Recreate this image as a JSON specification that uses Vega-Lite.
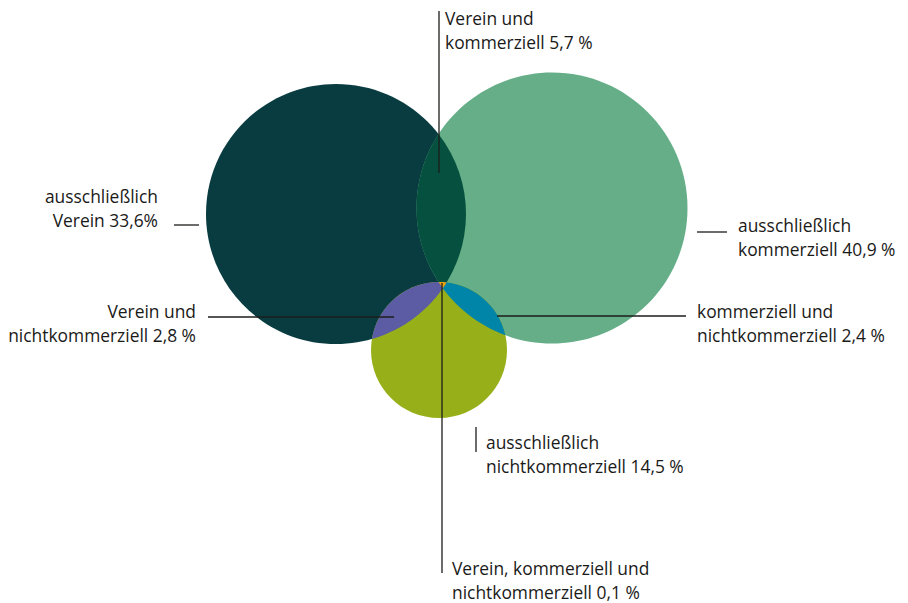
{
  "$schema": "https://vega.github.io/schema/vega-lite/v6.json",
  "width": 908,
  "height": 603,
  "padding": 0,
  "autosize": "none",
  "background": "white",
  "config": {"view": {"stroke": null}},
  "datasets": {
    "regions": [
      {"region": "Verein", "share": 33.6, "x": 336, "y": 214},
      {"region": "kommerziell", "share": 40.9, "x": 552, "y": 208},
      {"region": "nichtkommerziell", "share": 14.5, "x": 439, "y": 350},
      {"region": "Verein und kommerziell", "share": 5.7, "x": 438.48, "y": 134.01},
      {"region": "Verein und nichtkommerziell", "share": 2.8, "x": 446.54, "y": 282.42},
      {"region": "kommerziell und nichtkommerziell", "share": 2.4, "x": 438.5, "y": 282.02},
      {"region": "Verein, kommerziell und nichtkommerziell", "share": 0.1, "x": 438.5, "y": 282.02}
    ],
    "labels": [
      {"region": "Verein und kommerziell", "text": "Verein und\nkommerziell 5,7 %", "x": 445, "y": 25},
      {"region": "Verein", "text": "ausschließlich\nVerein 33,6%", "x": 158, "y": 203},
      {"region": "Verein und nichtkommerziell", "text": "Verein und\nnichtkommerziell 2,8 %", "x": 196, "y": 318},
      {"region": "kommerziell", "text": "ausschließlich\nkommerziell 40,9 %", "x": 738, "y": 232},
      {"region": "kommerziell und nichtkommerziell", "text": "kommerziell und\nnichtkommerziell 2,4 %", "x": 697, "y": 318},
      {"region": "nichtkommerziell", "text": "ausschließlich\nnichtkommerziell 14,5 %", "x": 486, "y": 449},
      {"region": "Verein, kommerziell und nichtkommerziell", "text": "Verein, kommerziell und\nnichtkommerziell 0,1 %", "x": 452, "y": 575}
    ],
    "leaders": [
      {"region": "Verein und kommerziell", "x": 439, "y": 11, "x2": 439, "y2": 173},
      {"region": "Verein", "x": 174, "y": 225, "x2": 199, "y2": 225},
      {"region": "Verein und nichtkommerziell", "x": 208, "y": 317, "x2": 394, "y2": 317},
      {"region": "kommerziell", "x": 697, "y": 232, "x2": 727, "y2": 232},
      {"region": "kommerziell und nichtkommerziell", "x": 497, "y": 316, "x2": 686, "y2": 316},
      {"region": "nichtkommerziell", "x": 476, "y": 427, "x2": 476, "y2": 452},
      {"region": "Verein, kommerziell und nichtkommerziell", "x": 442, "y": 283, "x2": 442, "y2": 573}
    ]
  },
  "encoding": {
    "x": {"field": "x", "type": "quantitative", "scale": {"domain": [0, 908], "nice": false, "zero": false}, "axis": null},
    "y": {"field": "y", "type": "quantitative", "scale": {"domain": [0, 603], "reverse": true, "nice": false, "zero": false}, "axis": null}
  },
  "layer": [
    {
      "data": {"name": "regions"},
      "mark": {"type": "point", "filled": true, "size": 4, "opacity": 1, "strokeWidth": 0},
      "encoding": {
        "color": {
          "field": "region",
          "type": "nominal",
          "scale": {
            "domain": ["Verein", "kommerziell", "nichtkommerziell", "Verein und kommerziell", "Verein und nichtkommerziell", "kommerziell und nichtkommerziell", "Verein, kommerziell und nichtkommerziell"],
            "range": ["#083c40", "#65ae88", "#97b01a", "#06503f", "#5b5ca3", "#0084a8", "#f2a20c"]
          },
          "legend": null
        },
        "shape": {
          "field": "region",
          "type": "nominal",
          "scale": {
            "domain": ["Verein", "kommerziell", "nichtkommerziell", "Verein und kommerziell", "Verein und nichtkommerziell", "kommerziell und nichtkommerziell", "Verein, kommerziell und nichtkommerziell"],
            "range": [
              "M-130,0A130,130 0 1 1 130,0A130,130 0 1 1 -130,0Z",
              "M-135.5,0A135.5,135.5 0 1 1 135.5,0A135.5,135.5 0 1 1 -135.5,0Z",
              "M-68,0A68,68 0 1 1 68,0A68,68 0 1 1 -68,0Z",
              "M0,0A130,130 0 0 1 4.28,154.16A135.5,135.5 0 0 1 0,0Z",
              "M0,0A130,130 0 0 1 -74.64,56.52A68,68 0 0 1 0,0Z",
              "M0,0A68,68 0 0 1 66.86,53.2A135.5,135.5 0 0 1 0,0Z",
              "M0,0A68,68 0 0 1 8.04,0.4A130,130 0 0 1 4.26,6.15A135.5,135.5 0 0 1 0,0Z"
            ]
          },
          "legend": null
        }
      }
    },
    {
      "data": {"name": "leaders"},
      "mark": {"type": "rule", "color": "#1d1d1b", "strokeWidth": 1.3},
      "encoding": {
        "x2": {"field": "x2"},
        "y2": {"field": "y2"}
      }
    },
    {
      "data": {"name": "labels"},
      "transform": [{"filter": {"not": {"field": "region", "oneOf": ["Verein", "Verein und nichtkommerziell"]}}}],
      "mark": {"type": "text", "align": "left", "baseline": "alphabetic", "font": "Open Sans", "fontSize": 17.4, "lineHeight": 24, "lineBreak": "\n", "color": "#1a1a18"},
      "encoding": {"text": {"field": "text"}}
    },
    {
      "data": {"name": "labels"},
      "transform": [{"filter": {"field": "region", "oneOf": ["Verein", "Verein und nichtkommerziell"]}}],
      "mark": {"type": "text", "align": "right", "baseline": "alphabetic", "font": "Open Sans", "fontSize": 17.4, "lineHeight": 24, "lineBreak": "\n", "color": "#1a1a18"},
      "encoding": {"text": {"field": "text"}}
    }
  ]
}
